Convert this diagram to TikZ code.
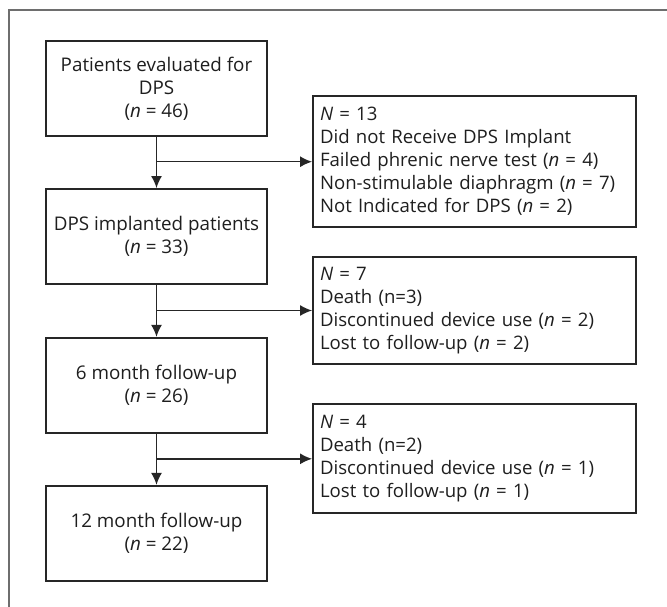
\documentclass[tikz,border=0pt]{standalone}
\usepackage{fontspec}
\setmainfont{Open Sans}
\usetikzlibrary{arrows.meta}
\definecolor{boxline}{HTML}{262626}
\definecolor{frameline}{HTML}{6E6E6E}
\definecolor{txt}{HTML}{1E1E1E}
\tikzset{
  mainbox/.style={draw=boxline, line width=1.8pt, minimum width=221pt, minimum height=95pt,
    inner sep=0pt, align=center, text=txt, font=\fontsize{18.8}{23}\selectfont},
  sidebox/.style={draw=boxline, line width=1.8pt, minimum width=323pt, text width=309pt,
    inner xsep=7pt, inner ysep=0pt, align=left, text=txt, font=\fontsize{18.6}{23}\selectfont},
  conn/.style={draw=boxline, line width=1.6pt},
  arr/.style={conn, -{Latex[length=12pt,width=11pt]}}
}
\begin{document}
\begin{tikzpicture}[x=1pt,y=-1pt]
\useasboundingbox (0,0) rectangle (667,607);
\draw[frameline, line width=2pt] (9,607) -- (9,10) -- (667,10);
\node[mainbox] (b1) at (156.5,88.3) {Patients evaluated for\\DPS\\(\textit{n} = 46)};
\node[mainbox] (b2) at (156.5,236.5) {DPS implanted patients\\(\textit{n} = 33)};
\node[mainbox] (b3) at (156.5,385.3) {6 month follow-up\\(\textit{n} = 26)};
\node[mainbox] (b4) at (156.5,533.3) {12 month follow-up\\(\textit{n} = 22)};
\node[sidebox, minimum height=131pt] (r1) at (474.5,161.7) {\textit{N} = 13\\Did not Receive DPS Implant\\Failed phrenic nerve test (\textit{n} = 4)\\Non-stimulable diaphragm (\textit{n} = 7)\\Not Indicated for DPS (\textit{n} = 2)};
\node[sidebox, minimum height=107pt] (r2) at (474.5,310.5) {\textit{N} = 7\\Death (n=3)\\Discontinued device use (\textit{n} = 2)\\Lost to follow-up (\textit{n} = 2)};
\node[sidebox, minimum height=109pt] (r3) at (474.5,458.8) {\textit{N} = 4\\Death (n=2)\\Discontinued device use (\textit{n} = 1)\\Lost to follow-up (\textit{n} = 1)};
\coordinate (j1) at (b1.south |- r1.west);
\coordinate (j2) at (b2.south |- r2.west);
\coordinate (j3) at (b3.south |- r3.west);
\draw[arr] (b1.south) -- (b2.north);
\draw[arr] (b2.south) -- (b3.north);
\draw[arr] (b3.south) -- (b4.north);
\draw[arr] (j1) -- (r1.west);
\draw[arr] (j2) -- (r2.west);
\draw[arr] (j3) -- (r3.west);
\end{tikzpicture}
\end{document}
